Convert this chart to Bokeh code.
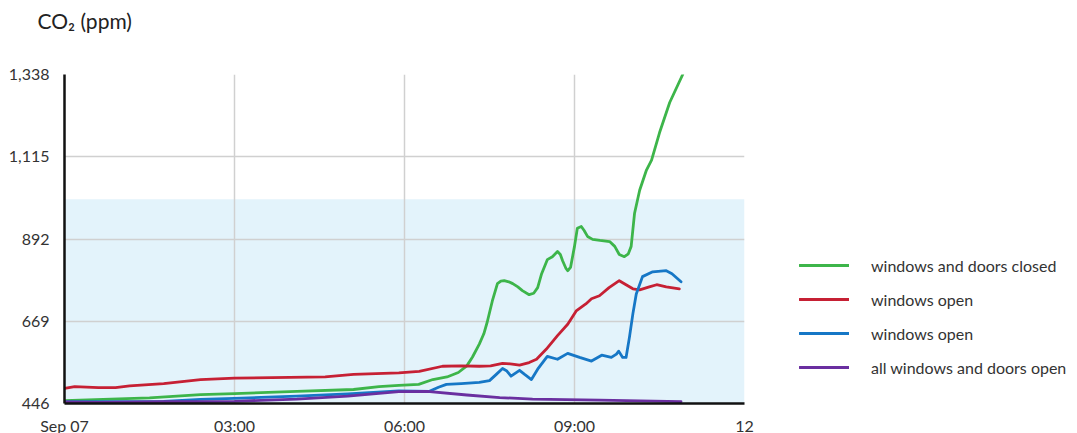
from bokeh.plotting import figure
from bokeh.models import FixedTicker, NumeralTickFormatter, BoxAnnotation, Legend, LegendItem, Title
from bokeh.embed import file_html
from bokeh.resources import INLINE

FONT = "Lato"

# ---- data (hours after Sep 07 00:00, CO2 ppm) ----
green_t = [0, 1.5, 2.4, 3.0, 4.1, 5.1, 5.55, 5.9, 6.25, 6.5, 6.75, 6.95, 7.1, 7.2, 7.32, 7.4,
           7.46, 7.55, 7.64, 7.7, 7.76, 7.84, 7.91, 8.0, 8.08, 8.2, 8.28, 8.35, 8.42, 8.52,
           8.61, 8.7, 8.75, 8.79, 8.85, 8.88, 8.93, 9.0, 9.05, 9.12, 9.17, 9.23, 9.32, 9.45,
           9.62, 9.71, 9.79, 9.88, 9.95, 10.0, 10.06, 10.15, 10.27, 10.36, 10.5, 10.68, 10.91]
green_v = [454, 461, 470, 473, 479, 484, 492, 495, 498, 511, 518, 530, 548, 572, 607, 635,
           667, 724, 771, 778, 779, 776, 771, 762, 752, 741, 745, 760, 798, 836,
           844, 858, 850, 833, 812, 806, 815, 872, 921, 926, 915, 899, 891, 888,
           885, 872, 850, 844, 852, 872, 962, 1024, 1079, 1106, 1180, 1262, 1338]

red_t = [0, 0.18, 0.6, 0.9, 1.15, 1.75, 2.4, 3.0, 4.6, 5.1, 5.9, 6.26, 6.67, 7.0, 7.32, 7.52,
         7.73, 7.9, 8.03, 8.2, 8.33, 8.5, 8.7, 8.88, 9.03, 9.2, 9.3, 9.44, 9.61, 9.79, 9.91,
         10.03, 10.15, 10.32, 10.45, 10.62, 10.85]
red_v = [487, 492, 489, 489, 494, 500, 511, 515, 518, 525, 529, 533, 547, 548, 547, 548,
         555, 553, 550, 557, 566, 593, 630, 661, 697, 716, 730, 738, 760, 779, 768,
         757, 754, 762, 768, 762, 757]

blue_t = [0, 0.6, 1.75, 2.4, 3.0, 4.1, 5.0, 5.9, 6.44, 6.6, 6.74, 7.0, 7.32, 7.5, 7.62, 7.73,
          7.8, 7.88, 8.03, 8.12, 8.24, 8.35, 8.52, 8.7, 8.88, 9.09, 9.3, 9.48, 9.65, 9.74,
          9.78, 9.85, 9.91, 9.97, 10.03, 10.09, 10.2, 10.38, 10.62, 10.72, 10.88]
blue_v = [451, 451, 452, 457, 460, 466, 472, 480, 479, 490, 498, 500, 503, 508, 525, 541,
          535, 520, 536, 525, 511, 539, 574, 566, 582, 571, 561, 577, 571, 580,
          588, 571, 571, 626, 689, 743, 790, 803, 806, 798, 776]

purple_t = [0, 0.6, 1.75, 2.4, 3.0, 4.1, 5.0, 5.9, 6.4, 7.1, 7.68, 8.26, 9.44, 10.88]
purple_v = [450, 449, 451, 451, 452, 458, 466, 478, 479, 469, 462, 458, 455, 451]

series_names = ["windows and doors closed", "windows open", "windows open", "all windows and doors open"]
series_colors = ["#3db54a", "#c62034", "#1677c6", "#6a2fa0"]

x_ticks = [0, 3, 6, 9, 12]
x_labels = ["Sep 07", "03:00", "06:00", "09:00", "12"]
y_ticks = [446, 669, 892, 1115, 1338]
band_top = 1000
title_text = "CO\u2082 (ppm)"

p = figure(frame_width=680, frame_height=329, x_range=(0, 12), y_range=(446, 1338),
           output_backend="svg", toolbar_location=None,
           min_border_left=64, min_border_top=71, min_border_bottom=32, min_border_right=330)
p.outline_line_color = None
p.background_fill_color = "white"

band = BoxAnnotation(bottom=446, top=band_top, fill_color="#e3f3fb", fill_alpha=1.0,
                     line_color=None, level="image")
p.add_layout(band)

renderers = []
for t, v, c in zip([green_t, red_t, blue_t, purple_t], [green_v, red_v, blue_v, purple_v], series_colors):
    r = p.line(t, v, line_color=c, line_width=2.8, line_join="round", line_cap="round")
    renderers.append(r)

legend = Legend(items=[LegendItem(label=n, renderers=[r]) for n, r in zip(series_names, renderers)],
                location=(55, 26), padding=0, margin=0, spacing=14, glyph_width=50, glyph_height=20,
                label_height=20, label_standoff=22, border_line_color=None, background_fill_alpha=0,
                label_text_font=FONT, label_text_font_size="16px", label_text_color="#333333")
p.add_layout(legend, "right")

p.xaxis.ticker = FixedTicker(ticks=x_ticks)
p.xaxis.major_label_overrides = {t: l for t, l in zip(x_ticks, x_labels)}
p.yaxis.ticker = FixedTicker(ticks=y_ticks)
p.yaxis.formatter = NumeralTickFormatter(format="0,0")

for ax in (p.xaxis, p.yaxis):
    ax.axis_line_color = "#111111"
    ax.axis_line_width = 2.5
    ax.major_tick_line_color = None
    ax.minor_tick_line_color = None
    ax.major_tick_out = 0
    ax.major_tick_in = 0
    ax.major_label_text_font = FONT
    ax.major_label_text_font_size = "16px"
    ax.major_label_text_color = "#333333"
p.xaxis.major_label_standoff = 12
p.yaxis.major_label_standoff = 15

p.xgrid.ticker = FixedTicker(ticks=x_ticks)
p.ygrid.ticker = FixedTicker(ticks=y_ticks)
p.grid.grid_line_color = "#d0d0d0"
p.grid.grid_line_width = 1.5

# spacer between the frame and the title (stacked nearest the frame)
spacer = Title(text=" ", text_font=FONT, text_font_size="10px", standoff=22)
p.add_layout(spacer, "above")

p.title.text = title_text
p.title.text_font = FONT
p.title.text_font_size = "21px"
p.title.text_font_style = "normal"
p.title.text_color = "#222222"
p.title.align = "left"
p.title.offset = -27
p.title.standoff = 11

open("out.html", "w").write(file_html(p, INLINE))
